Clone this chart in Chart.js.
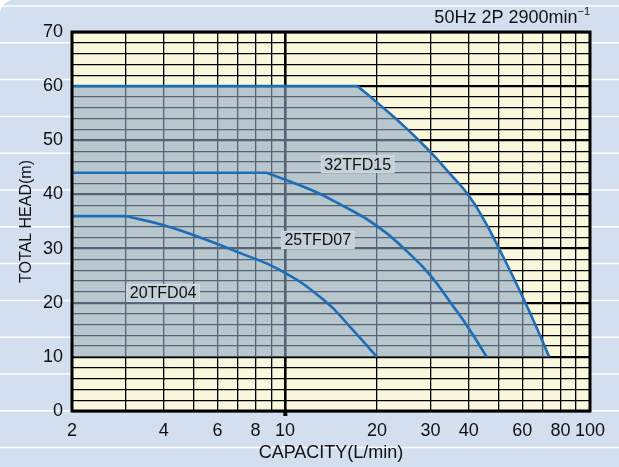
<!DOCTYPE html>
<html>
<head>
<meta charset="utf-8">
<script src="https://cdn.jsdelivr.net/npm/chart.js@4.4.0/dist/chart.umd.min.js"></script>
<style>
  html, body { margin: 0; padding: 0; background: #d3deef; }
  #wrap { width: 619px; height: 467px; position: relative; }
</style>
</head>
<body>
<div id="wrap"><canvas id="pumpChart"></canvas></div>
<script>
// tick values
const xGridValues = [2, 3, 4, 5, 6, 7, 8, 9, 10, 20, 30, 40, 50, 60, 70, 80, 90, 100];
const xTickLabels = [2, 4, 6, 8, 10, 20, 30, 40, 60, 80, 100];

// 32TFD15
const flat32X = [2, 17.3];
const flat32Y = [60, 60];
const curve32X = [17.3, 20, 25, 30, 35, 40, 45, 50, 60, 70, 73.5];
const curve32Y = [60, 57.0, 52.2, 47.8, 43.6, 39.8, 35.2, 30.3, 21.2, 12.8, 10];

// 25TFD07
const flat25X = [2, 8.7];
const flat25Y = [44, 44];
const curve25X = [8.7, 12.1, 15.1, 20, 25.4, 30, 35, 40, 45.8];
const curve25Y = [44, 40.9, 38.2, 34.2, 29.2, 25, 19.9, 15.3, 10];

// 20TFD04
const flat20X = [2, 3];
const flat20Y = [36, 36];
const curve20X = [3, 4, 5.4, 7.1, 9.63, 13.4, 16.3, 20];
const curve20Y = [36, 34.3, 31.8, 29.2, 26, 20.5, 15.6, 10];

// label anchors (data coords)
const curveNames = ['32TFD15', '25TFD07', '20TFD04'];
const nameX = [17.3, 12.8, 3.98];
const nameY = [45.6, 31.6, 21.8];

const FONT = "'Liberation Sans', Arial, sans-serif";
const LINE_BLUE = '#1e6db7';
const SHADE = 'rgba(140, 165, 195, 0.6)';

function pts(xs, ys) {
    return xs.map((x, i) => ({ x: x, y: ys[i] }));
}

function lineSet(xs, ys, smooth) {
    return {
        data: pts(xs, ys),
        borderColor: LINE_BLUE,
        borderWidth: 2.6,
        pointRadius: 0,
        fill: false,
        order: 0,
        tension: smooth ? 0.5 : 0
    };
}

// shaded operating range under 32TFD15, down to 10 m
const rangeSet = {
    data: pts(flat32X.concat(curve32X.slice(1)), flat32Y.concat(curve32Y.slice(1))),
    borderWidth: 0,
    borderColor: 'rgba(0,0,0,0)',
    backgroundColor: SHADE,
    pointRadius: 0,
    fill: { value: 10 },
    order: 10,
    tension: 0
};

const backdrop = {
    id: 'backdrop',
    beforeDraw(chart) {
        const ctx = chart.ctx;
        const a = chart.chartArea;
        ctx.save();
        ctx.fillStyle = '#d3deef';
        ctx.fillRect(0, 0, chart.width, chart.height);
        ctx.strokeStyle = '#ffffff';
        ctx.lineWidth = 1.5;
        for (let y = 6; y < chart.height; y += 36.8) {
            ctx.beginPath();
            ctx.moveTo(0, y);
            ctx.lineTo(chart.width, y);
            ctx.stroke();
        }
        // rounded corner top-left
        ctx.fillStyle = '#ffffff';
        ctx.beginPath();
        ctx.moveTo(0, 0);
        ctx.lineTo(14, 0);
        ctx.arc(14, 14, 14, -Math.PI / 2, Math.PI, true);
        ctx.closePath();
        ctx.fill();
        // plot paper
        ctx.fillStyle = '#faf8dc';
        ctx.fillRect(a.left, a.top, a.right - a.left, a.bottom - a.top);
        ctx.restore();
    },
    afterDatasetsDraw(chart) {
        const ctx = chart.ctx;
        const a = chart.chartArea;
        const xs = chart.scales.x;
        const ys = chart.scales.y;
        ctx.save();
        // frame
        ctx.strokeStyle = '#000';
        ctx.lineWidth = 3;
        ctx.strokeRect(a.left, a.top, a.right - a.left, a.bottom - a.top);

        // curve names
        ctx.font = '16px ' + FONT;
        ctx.textAlign = 'center';
        ctx.textBaseline = 'middle';
        curveNames.forEach((name, i) => {
            const px = xs.getPixelForValue(nameX[i]);
            const py = ys.getPixelForValue(nameY[i]);
            const w = ctx.measureText(name).width + 6;
            const h = 17;
            ctx.fillStyle = '#c4d0d7';
            ctx.fillRect(px - w / 2, py - h / 2, w, h);
            ctx.strokeStyle = '#d3dde3';
            ctx.lineWidth = 1;
            ctx.strokeRect(px - w / 2, py - h / 2, w, h);
            ctx.fillStyle = '#111';
            ctx.fillText(name, px, py + 1);
        });

        // heading
        ctx.fillStyle = '#111';
        ctx.textAlign = 'right';
        ctx.textBaseline = 'alphabetic';
        ctx.font = '11px ' + FONT;
        const sup = '\u22121';
        const supW = ctx.measureText(sup).width;
        ctx.fillText(sup, 590, 15);
        ctx.font = '18px ' + FONT;
        ctx.fillText('50Hz 2P 2900min', 590 - supW, 23);
        ctx.restore();
    }
};

const ctx = document.getElementById('pumpChart').getContext('2d');

const pumpChart = new Chart(ctx, {
    type: 'line',
    data: {
        datasets: [
            rangeSet,
            lineSet(flat32X, flat32Y, false),
            lineSet(curve32X, curve32Y, true),
            lineSet(flat25X, flat25Y, false),
            lineSet(curve25X, curve25Y, true),
            lineSet(flat20X, flat20Y, false),
            lineSet(curve20X, curve20Y, true)
        ]
    },
    options: {
        responsive: true,
        maintainAspectRatio: false,
        animation: false,
        layout: { padding: { top: 32, right: 29, left: 0, bottom: 0 } },
        plugins: {
            legend: { display: false },
            tooltip: { enabled: false },
            filler: { propagate: false }
        },
        scales: {
            x: {
                type: 'logarithmic',
                min: 2,
                max: 100,
                afterBuildTicks: (scale) => {
                    scale.ticks = xGridValues.map(v => ({ value: v }));
                },
                afterFit: (scale) => { scale.height = 56; },
                ticks: {
                    autoSkip: false,
                    maxRotation: 0,
                    padding: 4,
                    color: '#111',
                    font: { family: FONT, size: 18 },
                    callback: (v) => xTickLabels.includes(v) ? String(v) : ''
                },
                grid: {
                    color: '#000',
                    lineWidth: (c) => c.tick && c.tick.value === 10 ? 2.6 : 1.3,
                    drawTicks: true,
                    tickLength: 5,
                    tickWidth: 4,
                    tickColor: (c) => c.tick && c.tick.value === 10 ? '#000' : 'rgba(0,0,0,0)'
                },
                border: { display: false },
                title: {
                    display: true,
                    text: 'CAPACITY(L/min)',
                    color: '#111',
                    font: { family: FONT, size: 18 },
                    padding: { top: 0, bottom: 3 }
                }
            },
            y: {
                min: 0,
                max: 70,
                afterFit: (scale) => { scale.width = 72; },
                ticks: {
                    stepSize: 2,
                    autoSkip: false,
                    padding: 9,
                    color: '#111',
                    font: { family: FONT, size: 18 },
                    callback: (v) => v % 10 === 0 ? String(v) : ''
                },
                grid: {
                    color: '#000',
                    lineWidth: (c) => c.tick && c.tick.value % 10 === 0 ? 2.2 : 1.2,
                    drawTicks: false
                },
                border: { display: false },
                title: {
                    display: true,
                    text: 'TOTAL HEAD(m)',
                    color: '#111',
                    font: { family: FONT, size: 16 },
                    padding: { top: 17, bottom: 0 }
                }
            }
        }
    },
    plugins: [backdrop]
});
</script>
</body>
</html>
